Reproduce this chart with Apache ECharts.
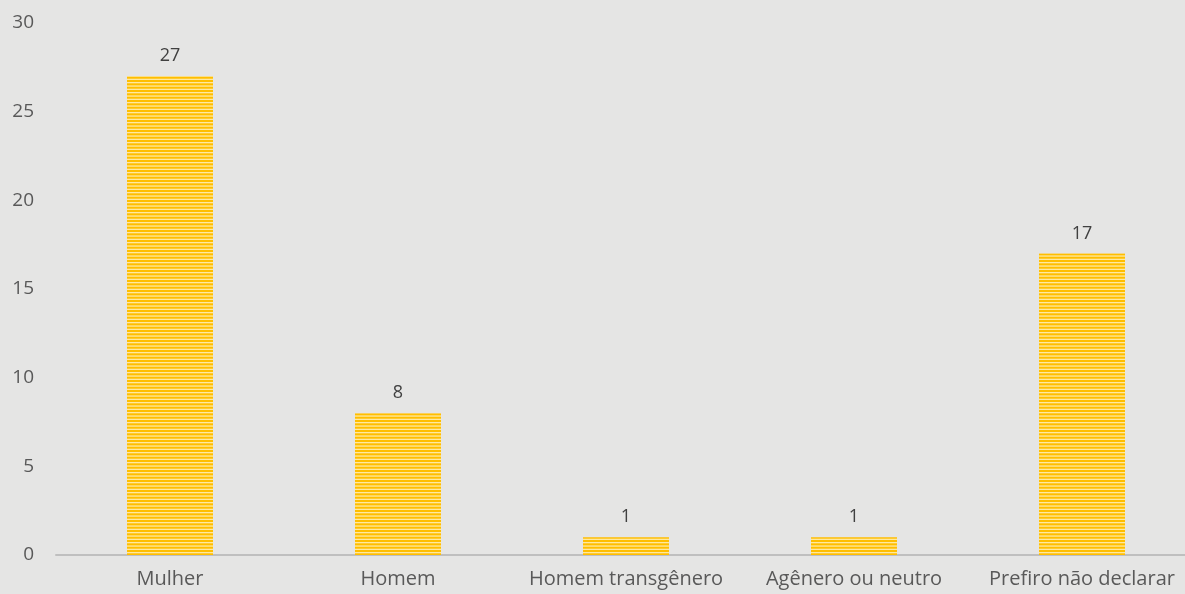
<!DOCTYPE html>
<html>
<head>
<meta charset="utf-8">
<script src="https://cdn.jsdelivr.net/npm/echarts@6/dist/echarts.min.js"></script>
<style>
  html, body { margin: 0; padding: 0; background: #E5E5E4; }
  #content { width: 1185px; height: 594px; }
</style>
</head>
<body>
<div id="content"></div>
<script>
// dados do gráfico
var categorias = ['Mulher', 'Homem', 'Homem transgênero', 'Agênero ou neutro', 'Prefiro não declarar'];
var valores = [27, 8, 1, 1, 17];

// padrão listrado das barras
function listras() {
    var c = document.createElement('canvas');
    c.width = 4;
    c.height = 10;
    var ctx = c.getContext('2d');
    ctx.fillStyle = '#FFBE00';
    ctx.fillRect(0, 0, 4, 10);
    ctx.fillStyle = '#FFE9A0';
    ctx.fillRect(0, 2, 4, 1.3);
    ctx.fillRect(0, 5.4, 4, 1.3);
    ctx.fillRect(0, 8.7, 4, 1.3);
    return c;
}

var option = {
    backgroundColor: '#E5E5E4',
    textStyle: { fontFamily: 'Open Sans' },
    grid: { left: 56, top: 23, width: 1140, bottom: 39, containLabel: false, outerBoundsMode: 'none' },
    xAxis: {
        type: 'category',
        data: categorias,
        axisLine: { lineStyle: { color: '#BFBFBF', width: 2 } },
        axisTick: { show: false },
        axisLabel: { color: '#595959', fontSize: 20, margin: 14, interval: 0 }
    },
    yAxis: {
        type: 'value',
        min: 0,
        max: 30,
        interval: 5,
        splitLine: { show: false },
        axisLine: { show: false },
        axisTick: { show: false },
        axisLabel: { color: '#595959', fontSize: 19, margin: 22 }
    },
    series: [{
        type: 'bar',
        data: valores,
        barWidth: 86,
        itemStyle: {
            color: { image: listras(), repeat: 'repeat' }
        },
        label: {
            show: true,
            position: 'top',
            distance: 11,
            color: '#404040',
            fontSize: 18
        }
    }]
};

var myChart = echarts.init(document.getElementById('content'));
myChart.setOption(option);
</script>
</body>
</html>
